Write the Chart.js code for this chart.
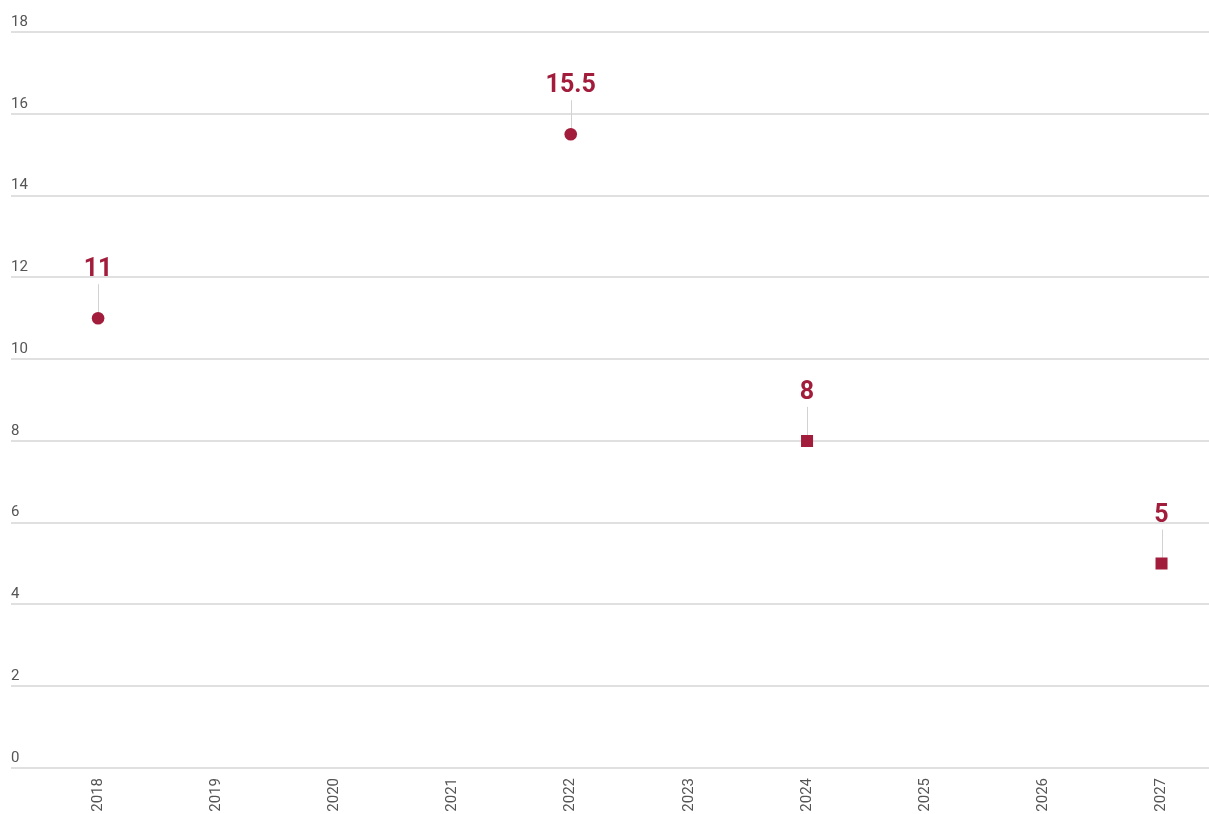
<!DOCTYPE html>
<html>
<head>
<meta charset="utf-8">
<script src="https://cdn.jsdelivr.net/npm/chart.js@4"></script>
<style>
  html, body { margin: 0; padding: 0; background: #ffffff; overflow: hidden; }
  #wrap { width: 1209px; height: 814px; overflow: hidden; }
</style>
</head>
<body>
<div id="wrap"><canvas id="c" width="1218" height="814"></canvas></div>
<script>
// ---- data ----
const categories = ['2018', '2019', '2020', '2021', '2022', '2023', '2024', '2025', '2026', '2027'];
const actualYears = [2018, 2022];
const actualValues = [11, 15.5];
const forecastYears = [2024, 2027];
const forecastValues = [8, 5];
const yTicks = [0, 2, 4, 6, 8, 10, 12, 14, 16, 18];

const markColor = '#a21d3b';
const textGray = '#555555';

const labelPlugin = {
  id: 'valueLabels',
  beforeDatasetsDraw(chart) {
    const ctx = chart.ctx;
    ctx.save();
    ctx.strokeStyle = '#d2d2d2';
    ctx.lineWidth = 1;
    chart.data.datasets.forEach((ds, i) => {
      chart.getDatasetMeta(i).data.forEach((pt) => {
        const x = Math.round(pt.x) + 0.5;
        ctx.beginPath();
        ctx.moveTo(x, pt.y - 34);
        ctx.lineTo(x, pt.y);
        ctx.stroke();
      });
    });
    ctx.restore();
  },
  afterDatasetsDraw(chart) {
    const ctx = chart.ctx;
    ctx.save();
    ctx.fillStyle = markColor;
    ctx.font = 'bold 25px Roboto';
    ctx.textAlign = 'center';
    ctx.textBaseline = 'alphabetic';
    chart.data.datasets.forEach((ds, i) => {
      chart.getDatasetMeta(i).data.forEach((pt, j) => {
        ctx.fillText(String(ds.data[j].y), pt.x, pt.y - 42);
      });
    });
    ctx.restore();
  }
};

new Chart(document.getElementById('c'), {
  type: 'scatter',
  data: {
    datasets: [
      {
        label: 'Actual',
        data: actualYears.map((x, i) => ({ x, y: actualValues[i] })),
        pointStyle: 'circle',
        pointRadius: 6.3,
        pointHoverRadius: 6.3,
        backgroundColor: markColor,
        borderColor: markColor,
        borderWidth: 0
      },
      {
        label: 'Forecast',
        data: forecastYears.map((x, i) => ({ x, y: forecastValues[i] })),
        pointStyle: 'rect',
        pointRadius: 8.5,
        pointHoverRadius: 8.5,
        backgroundColor: markColor,
        borderColor: markColor,
        borderWidth: 0
      }
    ]
  },
  options: {
    responsive: false,
    animation: false,
    layout: { padding: { left: 11, right: 0, top: 32, bottom: 0 } },
    plugins: {
      legend: { display: false },
      tooltip: { enabled: false }
    },
    scales: {
      x: {
        type: 'linear',
        min: 2017.263,
        max: 2027.406,
        afterBuildTicks(axis) {
          axis.ticks = categories.map(c => ({ value: Number(c) }));
        },
        afterFit(axis) {
          axis.paddingRight = 0;
          axis.paddingLeft = 0;
          axis.height = 46;
        },
        grid: { display: false, drawTicks: false },
        border: { display: false },
        ticks: {
          autoSkip: false,
          minRotation: 90,
          maxRotation: 90,
          padding: 10,
          color: textGray,
          font: { family: 'Roboto', size: 15 },
          callback: (v) => String(v)
        }
      },
      y: {
        min: 0,
        max: 18,
        afterBuildTicks(axis) {
          axis.ticks = yTicks.map(v => ({ value: v }));
        },
        grid: { color: '#e0e0e0', lineWidth: 2, drawTicks: false },
        border: { display: false },
        ticks: {
          mirror: true,
          padding: 0,
          labelOffset: -10,
          color: textGray,
          font: { family: 'Roboto', size: 15 }
        }
      }
    }
  },
  plugins: [labelPlugin]
});
</script>
</body>
</html>
